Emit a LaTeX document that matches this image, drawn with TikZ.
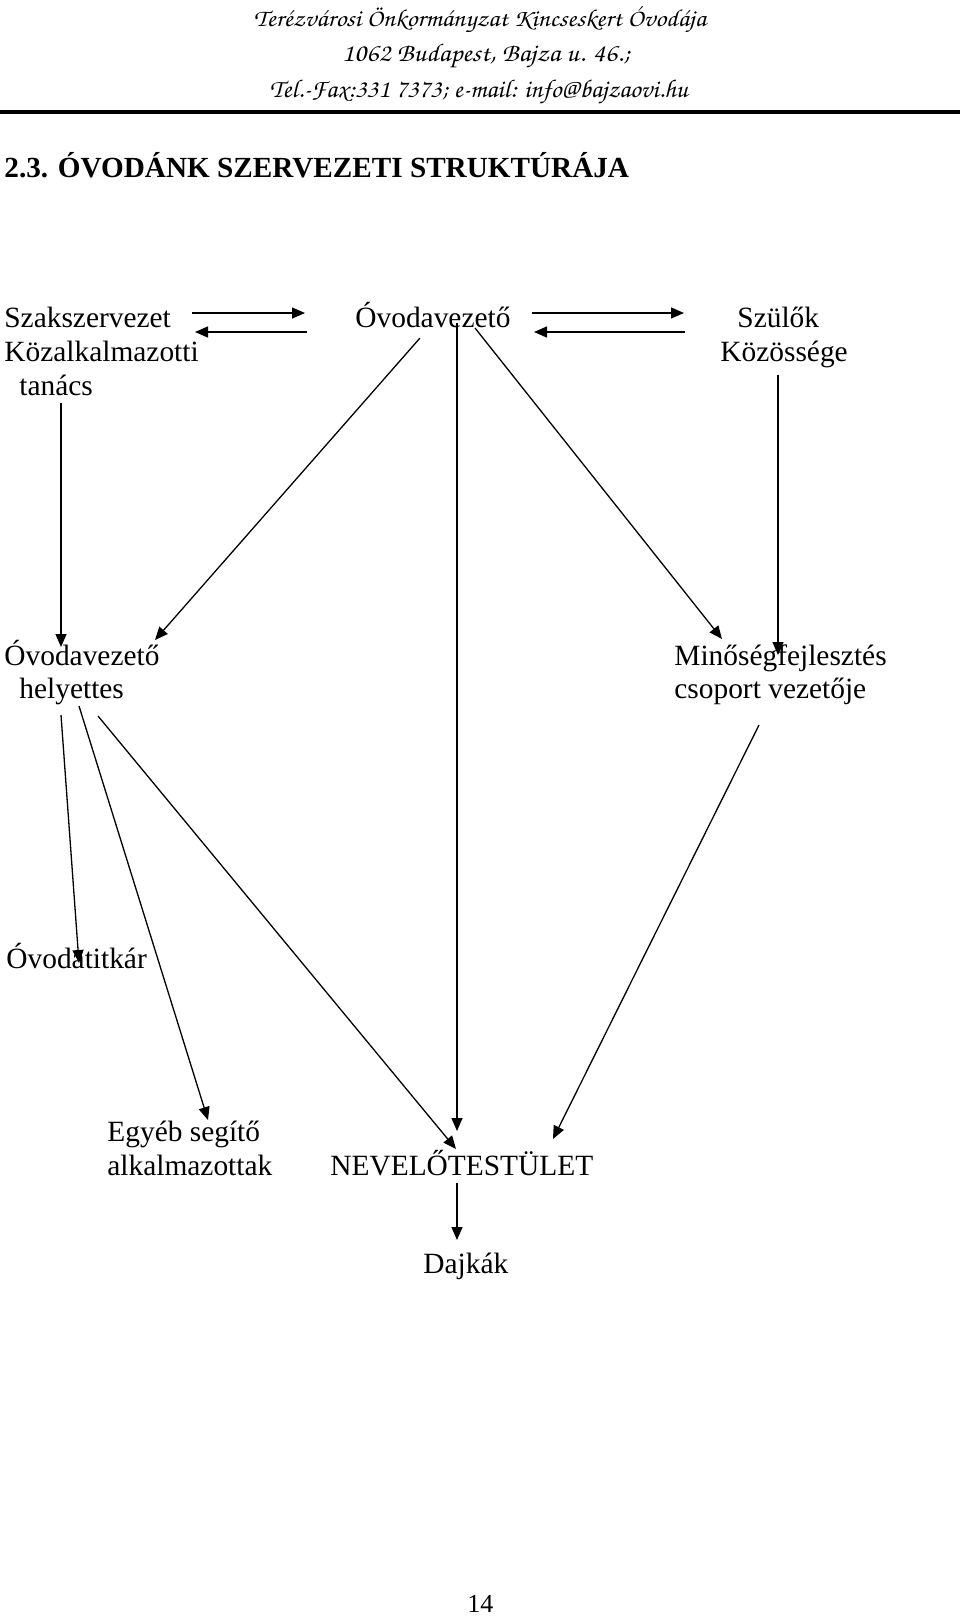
\documentclass[tikz,border=0pt]{standalone}
\usepackage[T1]{fontenc}
\usepackage{fontspec}
\setmainfont{Liberation Serif}
\usepackage{graphicx}
\usetikzlibrary{arrows.meta}
\newcommand{\hdrfont}{\fontencoding{T1}\fontfamily{pzc}\fontseries{mb}\fontshape{it}\selectfont}
\begin{document}
\begin{tikzpicture}[x=0.5pt,y=-0.5pt,
  txt/.style={inner sep=0pt, anchor=base west, font=\fontsize{14.7pt}{17pt}\selectfont},
  ttl/.style={inner sep=0pt, anchor=base west, font=\fontsize{14.6pt}{17pt}\selectfont\bfseries},
  hdr/.style={inner sep=0pt, anchor=center},
  pnum/.style={inner sep=0pt, anchor=base west, font=\fontsize{13pt}{15pt}\selectfont},
  arr/.style={-{Triangle[length=6.5pt,width=5.5pt]}, line width=0.65pt},
  rule/.style={line width=2pt}]
\useasboundingbox (0,0) rectangle (960,1617);
% header
\node[hdr] (h1) at (480,20) {\resizebox*{226pt}{14pt}{\hdrfont Terézvárosi Önkormányzat Kincseskert Óvodája}};
\node[hdr] (h2) at (486,56) {\resizebox*{144pt}{13pt}{\hdrfont 1062 Budapest, Bajza u. 46.;}};
\node[hdr] (h3) at (479,92) {\resizebox*{209pt}{13pt}{\hdrfont Tel.-Fax:331 7373; e-mail: info@bajzaovi.hu}};
\coordinate (rl) at (0,112);
\coordinate (rr) at (960,112);
\draw[rule] (rl) -- (rr);
% title
\node[ttl] (title) at (4,177) {2.3. ÓVODÁNK SZERVEZETI STRUKTÚRÁJA};
% text nodes
\node[txt] (szak1) at (4,327) {Szakszervezet};
\node[txt] (szak2) at (4,361) {Közalkalmazotti};
\node[txt] (szak3) at (19,395) {tanács};
\node[txt] (ov) at (355,327) {Óvodavezető};
\node[txt] (szul1) at (737,327) {Szülők};
\node[txt] (szul2) at (720,361) {Közössége};
\node[txt] (hely1) at (4,665) {Óvodavezető};
\node[txt] (hely2) at (19,698) {helyettes};
\node[txt] (min1) at (674,665) {Minőségfejlesztés};
\node[txt] (min2) at (674,698) {csoport vezetője};
\node[txt] (titk) at (6,968) {Óvodatitkár};
\node[txt] (egy1) at (107,1141) {Egyéb segítő};
\node[txt] (egy2) at (107,1175) {alkalmazottak};
\node[txt] (nev) at (330,1175) {NEVELŐTESTÜLET};
\node[txt] (dajk) at (423,1273) {Dajkák};
\node[pnum] (page) at (467,1612) {14};
% connector end points
\coordinate (szakR1) at (192,313);
\coordinate (ovL1) at (305,313);
\coordinate (ovL2) at (307,332);
\coordinate (szakR2) at (195,332);
\coordinate (ovR1) at (532,313);
\coordinate (szulL1) at (684,313);
\coordinate (szulL2) at (685,332);
\coordinate (ovR2) at (534,332);
\coordinate (ovSW) at (420,338);
\coordinate (helyNE) at (155,640);
\coordinate (ovS) at (457,323);
\coordinate (nevN1) at (457,1131);
\coordinate (ovSE) at (475,328);
\coordinate (minNW) at (722,639);
\coordinate (szulS) at (778,375);
\coordinate (minN) at (778,655);
\coordinate (szakS) at (61,403);
\coordinate (helyN) at (61,647);
\coordinate (helyS1) at (61,715);
\coordinate (titkN) at (79,963);
\coordinate (helyS2) at (79,706);
\coordinate (egyN) at (208,1120);
\coordinate (helyS3) at (98,716);
\coordinate (nevN2) at (456,1149);
\coordinate (minS) at (759,725);
\coordinate (nevNE) at (553,1139);
\coordinate (nevS) at (457,1183);
\coordinate (dajkN) at (457,1240);
% connectors
\draw[arr] (szakR1) -- (ovL1);
\draw[arr] (ovL2) -- (szakR2);
\draw[arr] (ovR1) -- (szulL1);
\draw[arr] (szulL2) -- (ovR2);
\draw[arr] (ovSW) -- (helyNE);
\draw[arr] (ovS) -- (nevN1);
\draw[arr] (ovSE) -- (minNW);
\draw[arr] (szulS) -- (minN);
\draw[arr] (szakS) -- (helyN);
\draw[arr] (helyS1) -- (titkN);
\draw[arr] (helyS2) -- (egyN);
\draw[arr] (helyS3) -- (nevN2);
\draw[arr] (minS) -- (nevNE);
\draw[arr] (nevS) -- (dajkN);
\end{tikzpicture}
\end{document}
